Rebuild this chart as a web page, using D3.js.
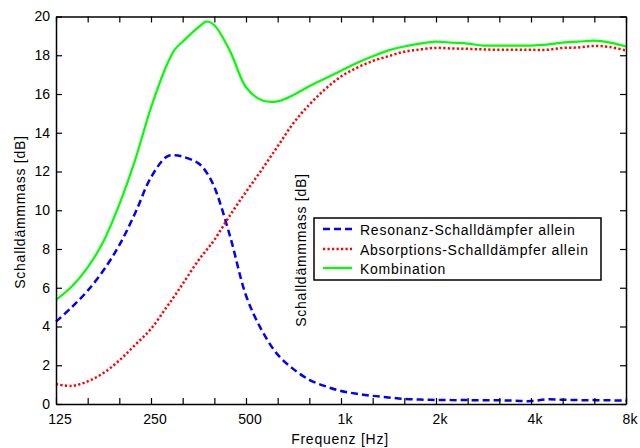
<!DOCTYPE html>
<html>
<head>
<meta charset="utf-8">
<script src="https://cdn.jsdelivr.net/npm/d3@7"></script>
<style>
  html, body { margin: 0; padding: 0; background: #fff; }
  svg { display: block; }
  text { font-family: "Liberation Sans", Arial, sans-serif; fill: #000; }
</style>
</head>
<body>
<svg id="chart" width="640" height="448"></svg>
<script>
// ---- data ----
const frequencies = [125, 140.3, 157.5, 176.8, 198.4, 222.7, 250, 280.6, 297.7, 315, 353.6, 375, 396.9, 445.4,
  500, 561.2, 630, 707.1, 793.7, 890.9, 1000, 1122, 1260, 1414, 1587, 1782,
  2000, 2245, 2520, 2828, 3175, 3564, 4000, 4490, 5040, 5657, 6350, 7127, 8000];

const resonanz = [4.25, 5.0, 5.85, 6.9, 8.2, 9.85, 11.7, 12.77, 12.84, 12.77, 12.42, 11.95, 11.2, 8.64,
  5.6, 3.8, 2.55, 1.8, 1.25, 0.92, 0.67, 0.53, 0.42, 0.34, 0.26, 0.23,
  0.21, 0.2, 0.2, 0.19, 0.19, 0.17, 0.15, 0.24, 0.22, 0.2, 0.2, 0.19, 0.17];

const absorption = [1.03, 0.93, 1.17, 1.6, 2.25, 3.05, 3.88, 5.02, 5.6, 6.2, 7.42, 7.95, 8.47, 9.75,
  10.95, 12.1, 13.3, 14.5, 15.45, 16.25, 16.9, 17.35, 17.7, 17.95, 18.18, 18.3,
  18.38, 18.35, 18.33, 18.3, 18.28, 18.28, 18.28, 18.28, 18.38, 18.4, 18.48, 18.42, 18.25];

const kombination = [5.37, 6.06, 7.05, 8.4, 10.3, 12.6, 15.3, 17.5, 18.3, 18.7, 19.45, 19.74, 19.55, 18.2,
  16.35, 15.68, 15.62, 15.95, 16.4, 16.8, 17.2, 17.6, 17.95, 18.25, 18.45, 18.6,
  18.7, 18.65, 18.6, 18.5, 18.5, 18.5, 18.5, 18.55, 18.65, 18.7, 18.75, 18.65, 18.45];

const xTickValues = [125, 157.5, 198.4, 250, 315, 396.9, 500, 630, 793.7, 1000, 1260, 1587,
  2000, 2520, 3175, 4000, 5040, 6350, 8000];
const xLabelValues = [125, 250, 500, 1000, 2000, 4000, 8000];
const xLabelTexts = ["125", "250", "500", "1k", "2k", "4k", "8k"];
const yTickValues = [0, 2, 4, 6, 8, 10, 12, 14, 16, 18, 20];

const seriesNames = ["Resonanz-Schalldämpfer allein", "Absorptions-Schalldämpfer allein", "Kombination"];
const seriesColors = ["#0000ff", "#ff0000", "#00ff00"];
const seriesDash = ["7,4", "2.2,2.3", null];
const seriesWidth = [2.5, 2.5, 2.2];
const seriesValues = [resonanz, absorption, kombination];

const xTitle = "Frequenz [Hz]";
const yTitle = "Schalldämmmass [dB]";

// ---- layout ----
const plotLeft = 56, plotRight = 626, plotTop = 16.5, plotBottom = 404;
const svg = d3.select("#chart");

const x = d3.scaleLog().domain([125, 8000]).range([plotLeft, plotRight]);
const y = d3.scaleLinear().domain([0, 20]).range([plotBottom, plotTop]);

// series
const line = d3.line().curve(d3.curveCatmullRom.alpha(0.5));
seriesValues.forEach((vals, i) => {
  const pts = frequencies.map((f, j) => [x(f), y(vals[j])]);
  svg.append("path")
    .attr("d", line(pts))
    .attr("fill", "none")
    .attr("stroke", seriesColors[i])
    .attr("stroke-width", seriesWidth[i])
    .attr("stroke-dasharray", seriesDash[i])
    .attr("stroke-linejoin", "round");
});

// axes
const labelFor = d => {
  const idx = xLabelValues.findIndex(v => Math.abs(v - d) < 0.5);
  return idx >= 0 ? xLabelTexts[idx] : "";
};
const styleAxis = g => {
  g.select(".domain").attr("stroke", "#000").attr("stroke-width", 1.5);
  g.selectAll(".tick line").attr("stroke", "#000").attr("stroke-width", 1.2);
  g.selectAll("text").attr("font-size", 14).attr("font-family", "Liberation Sans, Arial, sans-serif").attr("fill", "#000");
};

svg.append("g").attr("transform", `translate(0,${plotBottom})`)
  .call(d3.axisBottom(x).tickValues(xTickValues).tickSize(-6).tickSizeOuter(0).tickPadding(10).tickFormat(labelFor))
  .call(styleAxis)
  .call(g => g.selectAll("text").attr("dx", 3.5));

svg.append("g").attr("transform", `translate(0,${plotTop})`)
  .call(d3.axisTop(x).tickValues(xTickValues).tickSize(-6).tickSizeOuter(0).tickFormat(() => ""))
  .call(styleAxis);

svg.append("g").attr("transform", `translate(${plotLeft},0)`)
  .call(d3.axisLeft(y).tickValues(yTickValues).tickSize(-6).tickSizeOuter(0).tickPadding(6).tickFormat(d3.format("d")))
  .call(styleAxis);

svg.append("g").attr("transform", `translate(${plotRight},0)`)
  .call(d3.axisRight(y).tickValues(yTickValues).tickSize(-6).tickSizeOuter(0).tickFormat(() => ""))
  .call(styleAxis);

// axis titles
svg.append("text")
  .attr("x", 340).attr("y", 444)
  .attr("text-anchor", "middle")
  .attr("font-size", 14).attr("letter-spacing", 0.75)
  .text(xTitle);

svg.append("text")
  .attr("transform", "translate(25,212) rotate(-90)")
  .attr("text-anchor", "middle")
  .attr("font-size", 14).attr("letter-spacing", 0.75)
  .text(yTitle);

// stray duplicate y label in the middle of the plot
svg.append("text")
  .attr("transform", "translate(306,250) rotate(-90)")
  .attr("text-anchor", "middle")
  .attr("font-size", 14).attr("letter-spacing", 0.75)
  .text(yTitle);

// legend
const lg = svg.append("g");
lg.append("rect")
  .attr("x", 314).attr("y", 218).attr("width", 287).attr("height", 62)
  .attr("fill", "#fff").attr("stroke", "#000").attr("stroke-width", 1.5);
const rowY = [229, 249, 268];
seriesNames.forEach((name, i) => {
  lg.append("line")
    .attr("x1", 323).attr("x2", 352).attr("y1", rowY[i]).attr("y2", rowY[i])
    .attr("stroke", seriesColors[i])
    .attr("stroke-width", seriesWidth[i])
    .attr("stroke-dasharray", seriesDash[i]);
  lg.append("text")
    .attr("x", 360).attr("y", rowY[i] + 5.5)
    .attr("font-size", 14).attr("letter-spacing", 0.75)
    .text(name);
});
</script>
</body>
</html>
